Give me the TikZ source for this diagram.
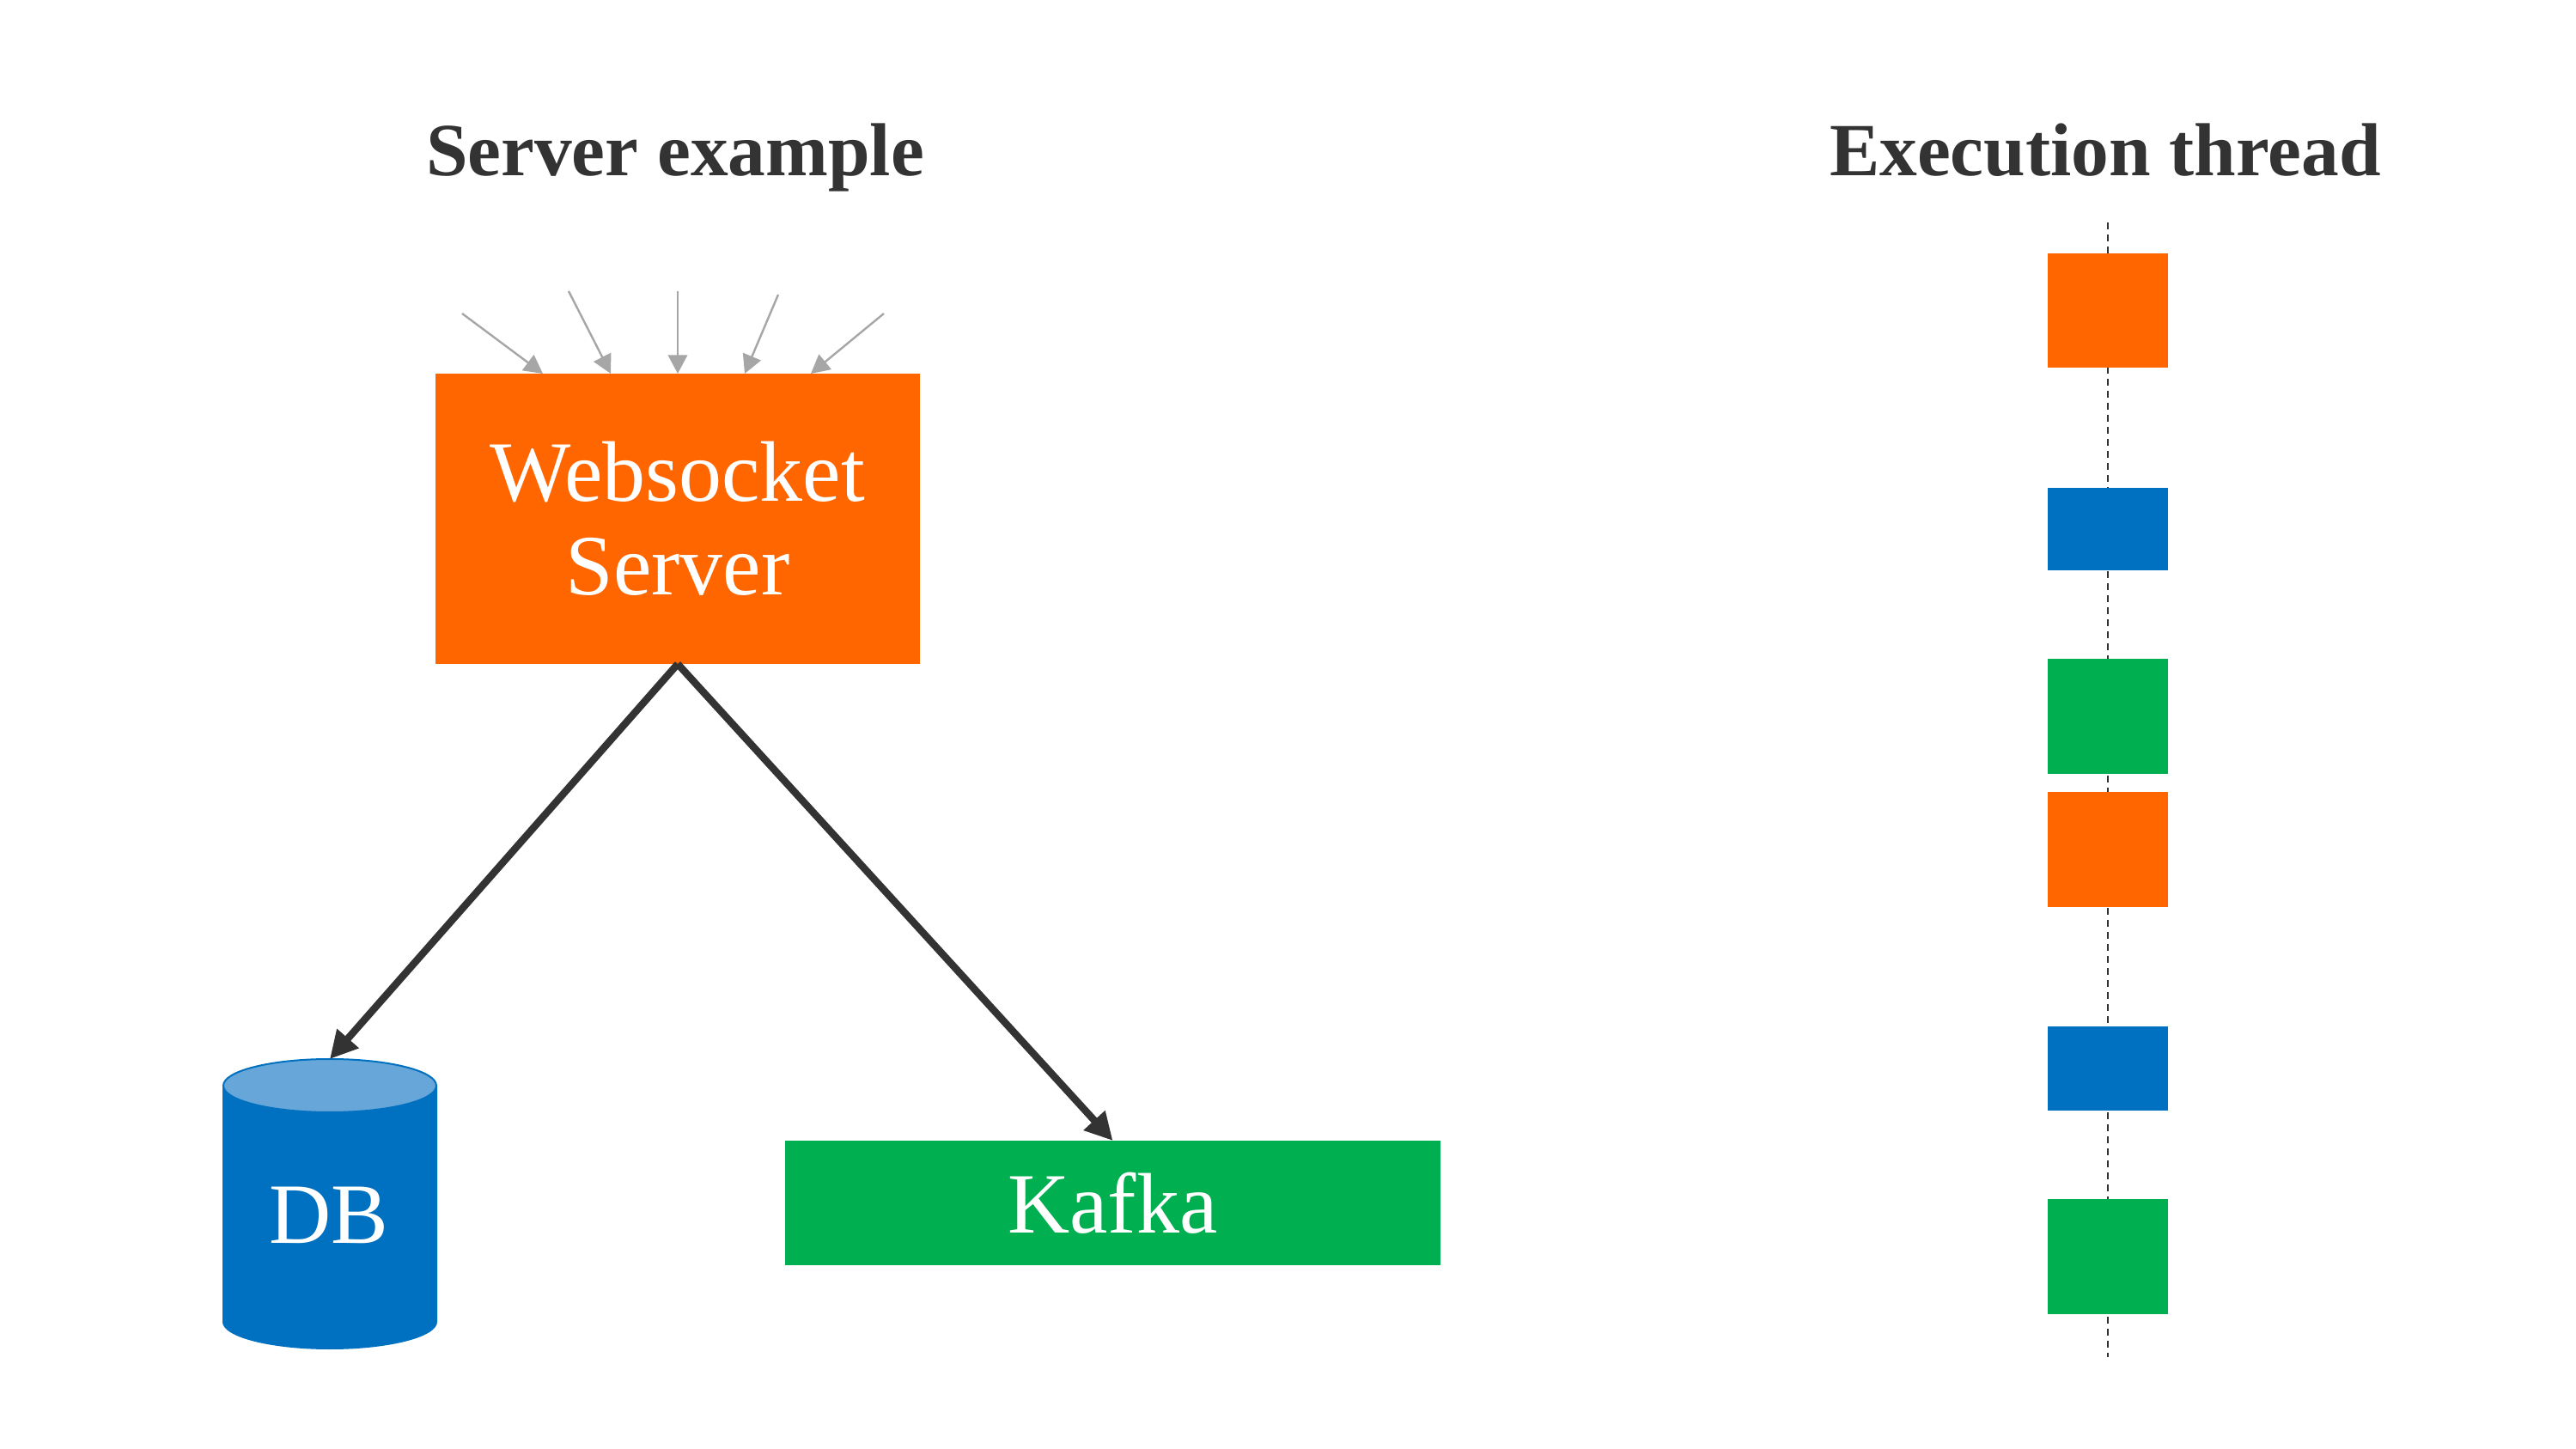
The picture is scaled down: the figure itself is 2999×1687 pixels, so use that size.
\documentclass[tikz,border=0pt]{standalone}
\usepackage{fontspec}
\setmainfont{Liberation Serif}
\usetikzlibrary{arrows.meta}
\definecolor{cOrange}{HTML}{FF6600}
\definecolor{cBlue}{HTML}{0070C0}
\definecolor{cGreen}{HTML}{00B050}
\definecolor{cLight}{HTML}{66A6D9}
\definecolor{cDark}{HTML}{333333}
\definecolor{cGray}{HTML}{A6A6A6}
\tikzset{
  block/.style={inner sep=0pt,outer sep=0pt,text=white,align=center,font=\fontsize{25}{27.2}\selectfont},
  slot/.style={inner sep=0pt,outer sep=0pt,minimum width=35pt},
  title/.style={text=cDark,font=\fontsize{21.85}{26}\selectfont\bfseries,inner sep=0pt,anchor=base},
  mainarrow/.style={draw=cDark,line width=2.1pt,-{Triangle[length=8pt,width=8pt]}},
  smallarrow/.style={draw=cGray,line width=0.6pt,-{Triangle[length=5.4pt,width=5.6pt]}},
  threadline/.style={draw=cDark,line width=0.7pt,dash pattern=on 2pt off 1.5pt}
}
\begin{document}
\begin{tikzpicture}[x=0.25pt,y=-0.25pt]
\useasboundingbox (0,0) rectangle (2999,1687);
\node[title] (t1) at (786,205) {Server example};
\node[title] (t2) at (2451,205) {Execution thread};
% thread
\coordinate (ttop) at (2454,259);
\coordinate (tbot) at (2454,1580);
\draw[threadline] (ttop) -- (tbot);
\node[slot,fill=cOrange,minimum height=33.25pt] (s1) at (2454,361.5) {};
\node[slot,fill=cBlue,minimum height=24pt] (s2) at (2454,616) {};
\node[slot,fill=cGreen,minimum height=33.5pt] (s3) at (2454,834) {};
\node[slot,fill=cOrange,minimum height=33.5pt] (s4) at (2454,989) {};
\node[slot,fill=cBlue,minimum height=24.5pt] (s5) at (2454,1244) {};
\node[slot,fill=cGreen,minimum height=33.5pt] (s6) at (2454,1463) {};
% websocket
\node[block,fill=cOrange,minimum width=141pt,minimum height=84.5pt] (ws) at (789,604) {Websocket\\Server};
\node[block,fill=cGreen,minimum width=190.75pt,minimum height=36.25pt] (kafka) at (1295.5,1400.5) {Kafka};
% database
\fill[cBlue] (259,1264) -- (509,1264) -- (509,1539)
  arc[start angle=0,end angle=180,x radius=125,y radius=32] -- cycle;
\draw[cBlue,fill=cLight,line width=0.5pt] (384,1264) ellipse[x radius=124,y radius=31];
\coordinate (dbtop) at (384,1233);
\node[block] (db) at (383,1415) {DB};
% incoming arrows
\coordinate (a1) at (538,365); \coordinate (b1) at (632,435);
\coordinate (a2) at (662,339); \coordinate (b2) at (711,435);
\coordinate (a3) at (789,339); \coordinate (b3) at (789,435);
\coordinate (a4) at (906,343); \coordinate (b4) at (867,435);
\coordinate (a5) at (1029,365); \coordinate (b5) at (944,435);
\draw[smallarrow] (a1) -- (b1);
\draw[smallarrow] (a2) -- (b2);
\draw[smallarrow] (a3) -- (b3);
\draw[smallarrow] (a4) -- (b4);
\draw[smallarrow] (a5) -- (b5);
% main arrows
\draw[mainarrow] (ws.south) -- (dbtop);
\draw[mainarrow] (ws.south) -- (kafka.north);
\end{tikzpicture}
\end{document}
